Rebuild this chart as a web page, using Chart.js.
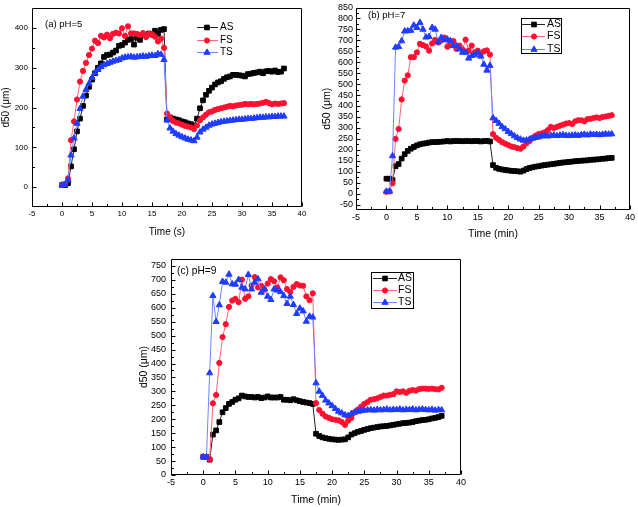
<!DOCTYPE html>
<html><head><meta charset="utf-8">
<script src="https://cdn.jsdelivr.net/npm/chart.js@4/dist/chart.umd.min.js"></script>
<style>
html,body{margin:0;padding:0;background:#fff;}
#wrap{position:relative;width:638px;height:507px;overflow:hidden;background:#fff;}
canvas{position:absolute;}
</style></head><body>
<div id="wrap">
<canvas id="ca" width="318" height="250" style="left:0;top:0"></canvas>
<canvas id="cb" width="320" height="250" style="left:318px;top:0"></canvas>
<canvas id="cc" width="340" height="267" style="left:130px;top:240px"></canvas>
</div>
<script>
// ---------- data ----------
const time = [0,0.5,1,1.5,2,2.5,3,3.5,4,4.5,
  5,5.5,6,6.5,7,7.5,8,8.5,9,9.5,
  10,10.5,11,11.5,12,12.5,13,13.5,14,14.5,
  15,15.5,16,16.5,17,17.5,18,18.5,19,19.5,
  20,20.5,21,21.5,22,22.5,23,23.5,24,24.5,
  25,25.5,26,26.5,27,27.5,28,28.5,29,29.5,
  30,30.5,31,31.5,32,32.5,33,33.5,34,34.5,
  35,35.5,36,36.5,37];

// (a) pH=5
const AS_a = [5,5,10,52,95,140,172,204,230,252,
  270,286,300,311,327,332,333,338,343,355,
  357,363,370,372,358,375,370,383,382,386,
  383,393,385,395,397,170,175,172,170,168,
  165,163,160,158,155,172,198,218,232,242,
  250,258,263,266,272,276,278,282,282,281,
  280,278,284,285,287,288,290,286,291,292,
  290,293,289,290,298];
const FS_a = [5,8,22,118,165,220,265,292,312,332,
  348,368,362,380,376,383,374,385,388,386,
  399,380,404,386,386,385,382,387,377,385,
  384,378,366,373,350,185,175,166,162,160,
  157,154,152,150,146,155,168,175,182,188,
  190,194,196,198,200,202,204,203,205,206,
  207,209,208,209,208,209,210,212,214,211,
  208,210,209,210,211];
const TS_a = [5,6,18,80,123,160,197,228,245,260,
  275,287,295,302,307,310,313,316,318,320,
  324,326,327,328,326,327,328,329,328,330,
  331,330,335,333,320,168,148,140,134,130,
  126,123,120,118,116,125,138,145,150,155,
  158,160,162,164,165,166,167,168,169,170,
  170,171,172,172,173,174,175,175,176,176,
  177,177,178,178,178];

// (b) pH=7
const AS_b = [68,68,62,125,135,160,180,195,205,213,
  220,225,228,230,233,235,235,236,237,238,
  240,238,240,240,240,239,240,240,239,240,
  240,238,240,241,238,130,118,113,110,108,
  106,104,103,102,100,105,112,117,120,123,
  125,128,130,132,134,136,138,140,142,143,
  145,146,148,149,150,151,152,154,155,156,
  157,159,160,162,163];
const FS_b = [8,10,47,250,295,430,516,540,623,623,
  645,684,678,672,653,686,702,690,700,713,
  671,683,697,661,676,658,703,653,676,645,
  653,638,650,654,635,272,255,245,235,228,
  222,215,212,208,205,215,230,240,255,265,
  272,275,280,290,305,300,305,310,315,320,
  322,318,330,335,335,330,340,342,345,348,
  345,350,352,355,358];
const TS_b = [10,10,172,668,671,697,742,743,745,769,
  758,781,750,714,717,758,750,692,713,702,
  705,698,675,675,660,645,645,618,630,633,
  642,627,590,563,585,345,333,320,305,295,
  283,273,263,255,248,243,244,248,252,256,
  258,262,265,262,265,267,264,266,268,265,
  264,266,267,265,268,270,267,271,269,270,
  268,270,272,271,272];

// (c) pH=9
const AS_c = [65,65,55,145,160,190,225,240,255,262,
  270,275,285,282,280,280,278,280,276,278,
  282,278,278,278,280,270,270,268,272,268,
  265,262,260,258,255,148,140,135,132,130,
  128,127,126,127,128,135,145,150,155,158,
  162,165,168,170,172,174,175,176,178,180,
  182,184,186,187,188,190,193,195,197,198,
  200,203,205,208,212];
const FS_c = [65,65,57,257,287,402,495,541,603,626,
  632,620,701,632,641,680,710,673,679,665,
  687,703,695,673,709,699,667,657,675,685,
  680,679,641,627,652,258,233,220,210,205,
  200,198,196,190,180,195,205,225,235,245,
  255,262,270,272,275,280,285,285,288,290,
  300,298,300,295,302,305,303,308,310,310,
  309,310,308,307,313];
const TS_c = [65,65,366,643,550,610,694,691,720,685,
  684,701,673,667,719,667,691,703,655,667,
  641,629,667,663,657,643,615,641,611,579,
  598,588,551,569,566,330,300,285,268,258,
  248,238,228,222,215,213,220,225,228,230,
  232,233,234,232,235,233,234,236,233,235,
  234,236,233,235,234,236,233,235,236,234,
  233,235,232,234,233];

const seriesNames = ['AS','FS','TS'];
const xTicks = [-5,0,5,10,15,20,25,30,35,40];
const yTicksA = [0,100,200,300,400];
const yTicksB = [-50,0,50,100,150,200,250,300,350,400,450,500,550,600,650,700,750,800,850];
const yTicksC = [0,50,100,150,200,250,300,350,400,450,500,550,600,650,700,750];

// ---------- styles ----------
const STY = {
  AS:{line:'#222222', fill:'#000000', shape:'rect', r:3.3, order:2},
  FS:{line:'#ff6478', fill:'#ff1030', shape:'circle', r:2.6, order:1},
  TS:{line:'#6c86ff', fill:'#1f3cff', shape:'triangle', r:3.6, order:0}
};
const FONT = '"Liberation Sans", Arial, sans-serif';

function minorOf(vals, min, max){
  const out=[];
  for(let i=0;i<vals.length-1;i++){ out.push((vals[i]+vals[i+1])/2); }
  const st = vals[1]-vals[0];
  if (vals[0]-st/2 > min) out.push(vals[0]-st/2);
  if (vals[vals.length-1]+st/2 < max) out.push(vals[vals.length-1]+st/2);
  return out;
}

const decor = {
  id:'decor',
  afterDraw(chart, args, o){
    const ctx = chart.ctx;
    const {left,right,top,bottom} = chart.chartArea;
    const xs = chart.scales.x, ys = chart.scales.y;
    ctx.save();
    ctx.strokeStyle = '#000'; ctx.lineWidth = 1;
    const L=Math.round(left)+0.5, R=Math.round(right)-0.5, T=Math.round(top)+0.5, B=Math.round(bottom)-0.5;
    ctx.beginPath(); ctx.rect(L,T,R-L,B-T); ctx.stroke();
    // inward ticks
    const xv = xs.ticks.map(t=>t.value), yv = ys.ticks.map(t=>t.value);
    ctx.beginPath();
    xv.forEach(v=>{ const p=Math.round(xs.getPixelForValue(v))+0.5; ctx.moveTo(p,B); ctx.lineTo(p,B-4); });
    minorOf(xv, xs.min, xs.max).forEach(v=>{ const p=Math.round(xs.getPixelForValue(v))+0.5; ctx.moveTo(p,B); ctx.lineTo(p,B-2.5); });
    yv.forEach(v=>{ const p=Math.round(ys.getPixelForValue(v))+0.5; ctx.moveTo(L,p); ctx.lineTo(L+4,p); });
    minorOf(yv, ys.min, ys.max).forEach(v=>{ const p=Math.round(ys.getPixelForValue(v))+0.5; ctx.moveTo(L,p); ctx.lineTo(L+2.5,p); });
    ctx.stroke();
    // panel label
    ctx.fillStyle='#000';
    ctx.font = o.labelSize+'px '+FONT;
    ctx.textBaseline='middle'; ctx.textAlign='left';
    ctx.fillText(o.label.text, o.label.x, o.label.y);
    // legend
    const lg = o.legend;
    if (lg.box){
      ctx.strokeStyle='#000'; ctx.lineWidth=1;
      ctx.strokeRect(lg.box[0]+0.5, lg.box[1]+0.5, lg.box[2]-lg.box[0], lg.box[3]-lg.box[1]);
    }
    ctx.font = o.legendSize+'px '+FONT;
    seriesNames.forEach((n,i)=>{
      const s = STY[n], y = lg.ys[i];
      ctx.strokeStyle = s.line; ctx.lineWidth=1;
      ctx.beginPath(); ctx.moveTo(lg.l0, y+0.5); ctx.lineTo(lg.l1, y+0.5); ctx.stroke();
      ctx.fillStyle = s.fill; ctx.strokeStyle = s.fill;
      Chart.helpers.drawPoint(ctx, {pointStyle:s.shape, radius:s.r, rotation:0, borderWidth:1}, lg.mx, y+0.5);
      ctx.fillStyle='#000';
      ctx.fillText(n, lg.tx, y+0.5);
    });
    ctx.restore();
  }
};

function makeChart(id, c){
  const data = [c.AS, c.FS, c.TS];
  const datasets = seriesNames.map((n,k)=>({
    label:n,
    data: time.map((t,i)=>({x:t, y:data[k][i]})),
    borderColor: STY[n].line, borderWidth:1,
    pointStyle: STY[n].shape, pointRadius: STY[n].r,
    pointBackgroundColor: STY[n].fill, pointBorderColor: STY[n].fill, pointBorderWidth:1,
    order: STY[n].order, tension:0, fill:false
  }));
  return new Chart(document.getElementById(id), {
    type:'line',
    data:{datasets},
    plugins:[decor],
    options:{
      responsive:false, animation:false, devicePixelRatio:1,
      layout:{padding:{left:c.padL, top:c.padT, right:c.padR, bottom:0}},
      plugins:{legend:{display:false}, tooltip:{enabled:false},
        decor:{label:c.label, legend:c.legend, labelSize:c.labelSize, legendSize:c.legendSize}},
      scales:{
        x:{type:'linear', min:-5, max:40,
          afterBuildTicks:s=>{ s.ticks = xTicks.map(v=>({value:v})); },
          afterFit:s=>{ s.height = c.xH; },
          grid:{display:true, drawOnChartArea:false, drawTicks:false},
          border:{display:false},
          ticks:{font:{family:FONT, size:c.tickSize, lineHeight:1}, color:'#000', padding:c.xPad, maxRotation:0, autoSkip:false},
          title:{display:true, text:c.xTitle, color:'#000', font:{family:FONT, size:c.titleSize}, padding:{top:0,bottom:c.xTitlePad}}
        },
        y:{type:'linear', min:c.yMin, max:c.yMax,
          afterBuildTicks:s=>{ s.ticks = c.yTicks.map(v=>({value:v})); },
          afterFit:s=>{ s.width = c.yW; },
          grid:{display:true, drawOnChartArea:false, drawTicks:false},
          border:{display:false},
          ticks:{font:{family:FONT, size:c.tickSize, lineHeight:1}, color:'#000', padding:c.yPad, autoSkip:false},
          title:{display:true, text:'d50 (μm)', color:'#000', font:{family:FONT, size:c.titleSize}, padding:{top:0,bottom:0}}
        }
      }
    }
  });
}

makeChart('ca', {AS:AS_a, FS:FS_a, TS:TS_a, xTitle:'Time (s)',
  yMin:-50, yMax:450, yTicks:yTicksA,
  padL:0, padT:7, padR:16, yW:32, xH:43, xPad:3, yPad:4, xTitlePad:12,
  tickSize:8, titleSize:10, labelSize:9.5, legendSize:10,
  label:{text:'(a) pH=5', x:45, y:24},
  legend:{box:null, l0:197, l1:218, mx:207, tx:220, ys:[27,40,52]}});

makeChart('cb', {AS:AS_b, FS:FS_b, TS:TS_b, xTitle:'Time (min)',
  yMin:-75, yMax:850, yTicks:yTicksB,
  padL:3, padT:5, padR:6, yW:35, xH:40, xPad:3, yPad:3, xTitlePad:10,
  tickSize:9, titleSize:10.5, labelSize:9.5, legendSize:10.5,
  label:{text:'(b) pH=7', x:50, y:15},
  legend:{box:[203,18,243,53], l0:204, l1:227, mx:216, tx:229, ys:[24,36,49]}});

makeChart('cc', {AS:AS_c, FS:FS_c, TS:TS_c, xTitle:'Time (min)',
  yMin:0, yMax:775, yTicks:yTicksC,
  padL:8, padT:19, padR:9, yW:33, xH:32, xPad:3, yPad:5, xTitlePad:1,
  tickSize:9, titleSize:10.5, labelSize:10.2, legendSize:10.5,
  label:{text:'(c) pH=9', x:47, y:31},
  legend:{box:[241,32,283,68], l0:243, l1:267, mx:255, tx:268, ys:[38,50,62]}});
</script>
</body></html>
